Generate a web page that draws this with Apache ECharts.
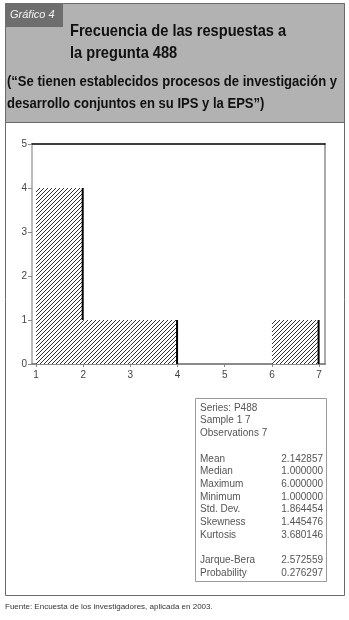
<!DOCTYPE html>
<html>
<head>
<meta charset="utf-8">
<script src="https://cdn.jsdelivr.net/npm/echarts@6/dist/echarts.min.js"></script>
<style>
  html, body { margin: 0; padding: 0; background: #fff; }
  #main { width: 349px; height: 620px; }
</style>
</head>
<body>
<div id="main"></div>
<script>
// histogram bins (P488)
var binStart = [1, 2, 3, 4, 5, 6];
var binEnd = [2, 3, 4, 5, 6, 7];
var counts = [4, 1, 1, 0, 0, 1];
var xTicks = [1, 2, 3, 4, 5, 6, 7];

// stats box text
var infoLines = ['Series: P488', 'Sample 1 7', 'Observations 7'];
var statLabels = ['Mean', 'Median', 'Maximum', 'Minimum', 'Std. Dev.', 'Skewness', 'Kurtosis'];
var statValues = ['2.142857', '1.000000', '6.000000', '1.000000', '1.864454', '1.445476', '3.680146'];
var testLabels = ['Jarque-Bera', 'Probability'];
var testValues = ['2.572559', '0.276297'];

var tabText = 'Gráfico 4';
var titleLines = ['Frecuencia de las respuestas a', 'la pregunta 488'];
var subtitleLines = ['(\u201cSe tienen establecidos procesos de investigación y', 'desarrollo conjuntos en su IPS y la EPS\u201d)'];
var sourceText = 'Fuente: Encuesta de los investigadores, aplicada en 2003.';

var FONT = '"Liberation Sans", Arial, sans-serif';

// hatch pattern  "/"
var pc = document.createElement('canvas');
pc.width = 4; pc.height = 4;
var pctx = pc.getContext('2d');
pctx.fillStyle = '#fff';
pctx.fillRect(0, 0, 4, 4);
pctx.strokeStyle = '#1a1a1a';
pctx.lineWidth = 0.9;
pctx.beginPath();
pctx.moveTo(0, 4); pctx.lineTo(4, 0);
pctx.moveTo(-1, 1); pctx.lineTo(1, -1);
pctx.moveTo(3, 5); pctx.lineTo(5, 3);
pctx.stroke();
var hatch = { image: pc, repeat: 'repeat' };

var histData = binStart.map(function (s, i) {
  return [s, binEnd[i], counts[i], i + 1 < counts.length ? counts[i + 1] : 0];
});

function renderBin(params, api) {
  var x0 = api.value(0), x1 = api.value(1), c = api.value(2), next = api.value(3);
  if (c <= 0) return { type: 'group', children: [] };
  var pTop = api.coord([x0, c]);
  var pBot = api.coord([x1, 0]);
  var children = [{
    type: 'rect',
    shape: { x: pTop[0], y: pTop[1], width: pBot[0] - pTop[0], height: pBot[1] - pTop[1] },
    style: { fill: hatch }
  }];
  if (next < c) {
    var pn = api.coord([x1, next]);
    children.push({
      type: 'line',
      shape: { x1: pBot[0] - 0.5, y1: pTop[1], x2: pBot[0] - 0.5, y2: pn[1] },
      style: { stroke: '#000', lineWidth: 2 }
    });
  }
  return { type: 'group', children: children };
}

var graphics = [];
// outer frame
graphics.push({
  type: 'rect', z: -10, silent: true,
  shape: { x: 5.5, y: 3.5, width: 339, height: 592 },
  style: { fill: '#fff', stroke: '#6a6a6a', lineWidth: 1 }
});
// header
graphics.push({
  type: 'rect', z: -9, silent: true,
  shape: { x: 5.5, y: 3.5, width: 339, height: 119 },
  style: { fill: '#b2b2b2', stroke: '#6a6a6a', lineWidth: 1 }
});
graphics.push({
  type: 'rect', silent: true,
  shape: { x: 5, y: 3, width: 58, height: 24 },
  style: { fill: '#6e6e6e' }
});
graphics.push({
  type: 'text', silent: true, x: 10, y: 15,
  style: { text: tabText, fill: '#f2f2f2', font: 'italic 11px ' + FONT, verticalAlign: 'middle' }
});
titleLines.forEach(function (t, i) {
  graphics.push({
    type: 'text', silent: true, x: 70, y: 31 + i * 22, scaleX: 0.86,
    style: { text: t, fill: '#111', font: 'bold 17px ' + FONT, verticalAlign: 'middle' }
  });
});
subtitleLines.forEach(function (t, i) {
  graphics.push({
    type: 'text', silent: true, x: 7, y: 81.5 + i * 22, scaleX: 0.87,
    style: { text: t, fill: '#111', font: 'bold 15px ' + FONT, verticalAlign: 'middle' }
  });
});

// stats box
var bx = 195, by = 398, lineH = 12.7;
graphics.push({
  type: 'rect', silent: true,
  shape: { x: bx + 0.5, y: by + 0.5, width: 131, height: 183 },
  style: { fill: '#fff', stroke: '#9a9a9a', lineWidth: 1 }
});
function statRow(row, label, value) {
  var y = by + 10 + row * lineH;
  graphics.push({
    type: 'text', silent: true, x: bx + 5, y: y,
    style: { text: label, fill: '#555', font: '10px ' + FONT, verticalAlign: 'middle' }
  });
  if (value) {
    graphics.push({
      type: 'text', silent: true, x: bx + 128, y: y,
      style: { text: value, fill: '#555', font: '10px ' + FONT, align: 'right', verticalAlign: 'middle' }
    });
  }
}
infoLines.forEach(function (t, i) { statRow(i, t, null); });
statLabels.forEach(function (t, i) { statRow(4 + i, t, statValues[i]); });
testLabels.forEach(function (t, i) { statRow(12 + i, t, testValues[i]); });

graphics.push({
  type: 'text', silent: true, left: 5, top: 603,
  style: { text: sourceText, fill: '#333', font: '8px ' + FONT }
});

var chart = echarts.init(document.getElementById('main'), null, { renderer: 'canvas' });
chart.setOption({
  animation: false,
  backgroundColor: '#fff',
  grid: { left: 32, right: 24, top: 144, bottom: 256 },
  xAxis: [{
    type: 'value', min: 0.915, max: 7.125,
    axisLine: { onZero: false, lineStyle: { color: '#666', width: 1.5 } },
    axisTick: { show: true, length: 3, customValues: xTicks, lineStyle: { color: '#888' } },
    axisLabel: { customValues: xTicks, color: '#444', fontSize: 10, margin: 6, fontFamily: FONT },
    splitLine: { show: false }
  }, {
    type: 'value', position: 'top', min: 0.915, max: 7.125,
    axisLine: { onZero: false, lineStyle: { color: '#000', width: 1.5 } },
    axisTick: { show: false }, axisLabel: { show: false }, splitLine: { show: false }
  }],
  yAxis: [{
    type: 'value', min: 0, max: 5, interval: 1,
    axisLine: { show: true, onZero: false, lineStyle: { color: '#bbb', width: 2 } },
    axisTick: { show: true, length: 4, lineStyle: { color: '#888' } },
    axisLabel: { color: '#444', fontSize: 10, margin: 5, fontFamily: FONT },
    splitLine: { show: false }
  }, {
    type: 'value', position: 'right', min: 0, max: 5, interval: 1,
    axisLine: { show: true, onZero: false, lineStyle: { color: '#aaa', width: 2 } },
    axisTick: { show: false }, axisLabel: { show: false }, splitLine: { show: false }
  }],
  series: [{
    type: 'custom',
    renderItem: renderBin,
    encode: { x: [0, 1], y: 2 },
    data: histData,
    clip: false
  }],
  graphic: graphics
});
</script>
</body>
</html>
